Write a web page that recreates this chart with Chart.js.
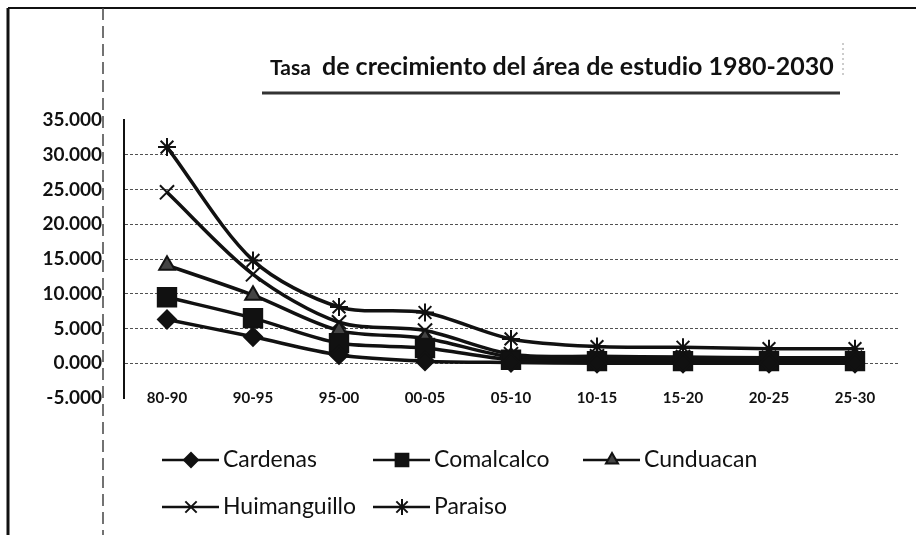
<!DOCTYPE html>
<html>
<head>
<meta charset="utf-8">
<script src="https://cdn.jsdelivr.net/npm/chart.js@4.4.1/dist/chart.umd.min.js"></script>
<style>
  html, body { margin: 0; padding: 0; background: #fff; }
  #wrap { width: 916px; height: 535px; }
</style>
</head>
<body>
<div id="wrap"><canvas id="grafico" width="916" height="535"></canvas></div>
<script>
// Datos
const periodos = ['80-90', '90-95', '95-00', '00-05', '05-10', '10-15', '15-20', '20-25', '25-30'];
const cardenas = [6.3, 3.8, 1.2, 0.3, 0.1, 0.0, 0.0, 0.0, 0.0];
const comalcalco = [9.5, 6.5, 2.9, 2.2, 0.5, 0.3, 0.3, 0.3, 0.3];
const cunduacan = [14.1, 9.8, 4.7, 3.6, 0.9, 0.6, 0.5, 0.5, 0.5];
const huimanguillo = [24.6, 12.8, 5.9, 4.7, 1.3, 1.0, 0.9, 0.8, 0.8];
const paraiso = [31.1, 14.8, 8.1, 7.3, 3.5, 2.4, 2.3, 2.1, 2.1];
const yTicks = [-5, 0, 5, 10, 15, 20, 25, 30, 35];

const tinta = '#111';

function serie(label, data, style, radius, fill) {
    return {
        label: label,
        data: data,
        borderColor: tinta,
        backgroundColor: fill,
        borderWidth: 3.5,
        tension: 0.3,
        pointStyle: style,
        pointRadius: radius,
        pointBackgroundColor: fill,
        pointBorderColor: tinta,
        pointBorderWidth: 2
    };
}

// marco, titulo y lineas del escaneo
const decoracion = {
    id: 'decoracion',
    beforeDraw(chart) {
        const c = chart.ctx;
        c.save();
        c.fillStyle = '#fff';
        c.fillRect(0, 0, chart.width, chart.height);
        c.strokeStyle = tinta;
        c.lineWidth = 2;
        c.beginPath();
        c.moveTo(8, 8); c.lineTo(916, 8);
        c.stroke();
        c.lineWidth = 3;
        c.beginPath();
        c.moveTo(8, 8); c.lineTo(8, 535);
        c.stroke();
        c.strokeStyle = '#444';
        c.lineWidth = 1.5;
        c.setLineDash([12, 6]);
        c.beginPath();
        c.moveTo(103, 8); c.lineTo(103, 535);
        c.stroke();
        c.setLineDash([2, 3]);
        c.strokeStyle = '#999';
        c.lineWidth = 1;
        c.beginPath();
        c.moveTo(843, 43); c.lineTo(843, 77);
        c.stroke();
        c.setLineDash([]);
        // titulo
        c.fillStyle = tinta;
        c.textBaseline = 'alphabetic';
        c.textAlign = 'left';
        c.font = 'bold 21px Lato';
        c.fillText('Tasa', 270, 75);
        c.font = 'bold 25px Lato';
        c.fillText('de crecimiento del área de estudio 1980-2030', 322, 75);
        c.strokeStyle = '#333';
        c.lineWidth = 3;
        c.beginPath();
        c.moveTo(262, 93); c.lineTo(840, 93);
        c.stroke();
        c.restore();
    }
};

// leyenda en dos filas alineada a la izquierda
const leyenda = {
    id: 'leyenda',
    afterDraw(chart) {
        const c = chart.ctx;
        const huecos = [[162, 460], [373, 460], [583, 460], [162, 507], [373, 507]];
        const radios = [7, 9, 7, 8, 8];
        c.save();
        chart.data.datasets.forEach((ds, i) => {
            const [x, y] = huecos[i];
            c.strokeStyle = tinta;
            c.lineWidth = 2.5;
            c.beginPath();
            c.moveTo(x, y); c.lineTo(x + 57, y);
            c.stroke();
            c.fillStyle = ds.pointBackgroundColor;
            c.lineWidth = 2;
            Chart.helpers.drawPoint(c, {
                pointStyle: ds.pointStyle, radius: radios[i], rotation: 0, borderWidth: 2
            }, x + 29, y);
            c.fillStyle = tinta;
            c.font = '23px Lato';
            c.textBaseline = 'middle';
            c.textAlign = 'left';
            c.fillText(ds.label, x + 61, y);
        });
        c.restore();
    }
};

const ctx = document.getElementById('grafico').getContext('2d');
const grafico = new Chart(ctx, {
    type: 'line',
    data: {
        labels: periodos,
        datasets: [
            serie('Cardenas', cardenas, 'rectRot', 9, tinta),
            serie('Comalcalco', comalcalco, 'rect', 13, tinta),
            serie('Cunduacan', cunduacan, 'triangle', 9, '#444'),
            serie('Huimanguillo', huimanguillo, 'crossRot', 10, tinta),
            serie('Paraiso', paraiso, 'star', 9, tinta)
        ]
    },
    plugins: [decoracion, leyenda],
    options: {
        responsive: false,
        animation: false,
        layout: {
            padding: { left: 8, right: 18, top: 120, bottom: 125 }
        },
        plugins: {
            legend: { display: false },
            title: { display: false },
            tooltip: { enabled: false }
        },
        scales: {
            x: {
                offset: true,
                afterFit: (scale) => { scale.height = 12; },
                grid: { display: false, drawTicks: false },
                border: { display: false },
                ticks: {
                    mirror: true,
                    padding: -9,
                    color: tinta,
                    font: { family: 'Lato', size: 15, weight: 'bold' }
                }
            },
            y: {
                min: -5,
                max: 35,
                afterFit: (scale) => { scale.width = 116; },
                afterBuildTicks: (scale) => {
                    scale.ticks = yTicks.map(v => ({ value: v }));
                },
                border: { display: true, color: tinta, width: 2, dash: [3, 2] },
                grid: {
                    drawTicks: false,
                    color: (c) => (c.tick && (c.tick.value === 35 || c.tick.value === -5)) ? 'rgba(0,0,0,0)' : 'rgba(50,50,50,0.85)',
                    lineWidth: 1
                },
                ticks: {
                    padding: 22,
                    color: tinta,
                    font: { family: 'Lato', size: 19, weight: 'bold' },
                    callback: (v) => Number(v).toFixed(3)
                }
            }
        }
    }
});
</script>
</body>
</html>
